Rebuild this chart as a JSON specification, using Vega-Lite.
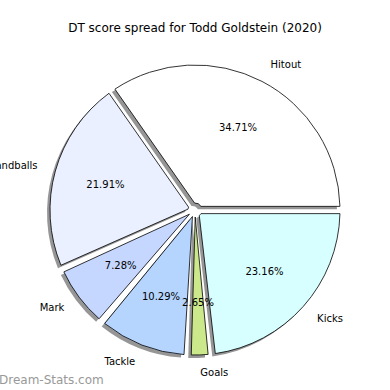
{
  "$schema": "https://vega.github.io/schema/vega-lite/v6.json",
  "width": 390,
  "height": 348,
  "autosize": {"type": "none"},
  "padding": {"left": 0, "top": 36, "right": 0, "bottom": 6},
  "background": "white",
  "title": {
    "text": "DT score spread for Todd Goldstein (2020)",
    "font": "DejaVu Sans",
    "fontSize": 12,
    "fontWeight": "normal",
    "color": "black",
    "anchor": "middle",
    "frame": "group",
    "baseline": "top",
    "offset": 1
  },
  "config": {"view": {"stroke": null}},
  "data": {
    "values": [
      {"label": "Hitout", "value": 34.71, "rank": 1, "pct": "34.71%"},
      {"label": "Handballs", "value": 21.91, "rank": 2, "pct": "21.91%"},
      {"label": "Mark", "value": 7.28, "rank": 3, "pct": "7.28%"},
      {"label": "Tackle", "value": 10.29, "rank": 4, "pct": "10.29%"},
      {"label": "Goals", "value": 2.65, "rank": 5, "pct": "2.65%"},
      {"label": "Kicks", "value": 23.16, "rank": 6, "pct": "23.16%"}
    ]
  },
  "encoding": {
    "theta": {
      "field": "value",
      "type": "quantitative",
      "stack": true,
      "scale": {"range": [1.5707963, -4.712389]}
    },
    "order": {"field": "rank", "type": "quantitative"}
  },
  "layer": [
    {
      "mark": {"type": "arc", "outerRadius": 145, "innerRadius": 7, "padAngle": 0.05, "xOffset": -3, "yOffset": 3, "fill": "#969696", "stroke": null},
      "encoding": {"detail": {"field": "label"}}
    },
    {
      "mark": {"type": "arc", "outerRadius": 145, "innerRadius": 7, "padAngle": 0.05, "stroke": "black", "strokeWidth": 0.8},
      "encoding": {
        "color": {
          "field": "label",
          "type": "nominal",
          "scale": {
            "domain": ["Hitout", "Handballs", "Mark", "Tackle", "Goals", "Kicks"],
            "range": ["#ffffff", "#eaf0ff", "#c5d7ff", "#b5d5ff", "#cbe88b", "#d8ffff"]
          },
          "legend": null
        }
      }
    },
    {
      "mark": {"type": "text", "radius": 93, "font": "DejaVu Sans", "fontSize": 10, "color": "black", "align": "center", "baseline": "middle"},
      "encoding": {"text": {"field": "pct"}, "detail": {"field": "label"}}
    },
    {
      "mark": {"type": "text", "radius": 163.5, "font": "DejaVu Sans", "fontSize": 10, "color": "black", "align": "left", "baseline": "middle"},
      "encoding": {
        "text": {"condition": {"test": "datum.label == 'Hitout' || datum.label == 'Goals' || datum.label == 'Kicks'", "field": "label"}, "value": ""},
        "detail": {"field": "label"}
      }
    },
    {
      "mark": {"type": "text", "radius": 163.5, "font": "DejaVu Sans", "fontSize": 10, "color": "black", "align": "right", "baseline": "middle"},
      "encoding": {
        "text": {"condition": {"test": "datum.label == 'Handballs' || datum.label == 'Mark' || datum.label == 'Tackle'", "field": "label"}, "value": ""},
        "detail": {"field": "label"}
      }
    },
    {
      "data": {"values": [{"wm": "Dream-Stats.com"}]},
      "mark": {"type": "text", "font": "DejaVu Sans", "fontSize": 12, "color": "#999999", "align": "left", "baseline": "alphabetic"},
      "encoding": {
        "text": {"field": "wm"},
        "x": {"value": -1},
        "y": {"value": {"expr": "height"}},
        "theta": null,
        "order": null
      }
    }
  ]
}
